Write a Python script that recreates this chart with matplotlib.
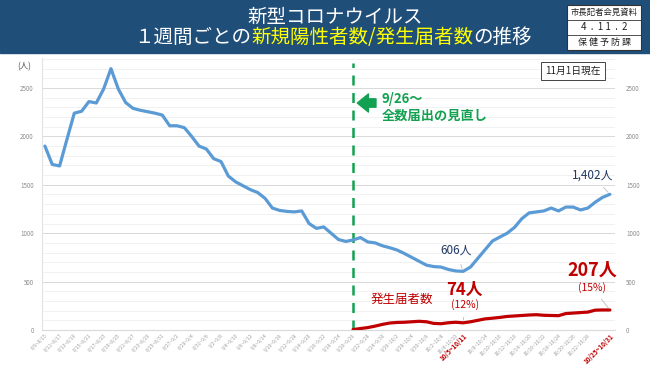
import matplotlib
matplotlib.use('agg')
import matplotlib.pyplot as plt
from matplotlib.patches import Rectangle
from matplotlib.lines import Line2D
import pandas as pd

plt.rcParams['font.family'] = ['Noto Sans CJK JP', 'DejaVu Sans']

# 7-day windows ending 8/15 ... 10/31
end_dates = pd.date_range('2022-08-15', '2022-10-31')
labels = [f"{(d - pd.Timedelta(days=6)).month}/{(d - pd.Timedelta(days=6)).day}~{d.month}/{d.day}"
          for d in end_dates]

# new positive cases (7-day sums)
positives = [1900, 1710, 1695, 1970, 2240, 2260, 2360, 2345, 2490, 2700,
             2490, 2350, 2290, 2270, 2255, 2240, 2220, 2110, 2110, 2090,
             2000, 1900, 1870, 1770, 1740, 1590, 1530, 1490, 1450, 1420,
             1360, 1260, 1235, 1225, 1220, 1230, 1100, 1050, 1065, 1000,
             935, 915, 930, 955, 910, 900, 870, 850, 826, 790,
             750, 710, 670, 655, 650, 625, 610, 606, 650, 740,
             830, 920, 960, 1000, 1060, 1150, 1210, 1220, 1230, 1260,
             1230, 1270, 1270, 1240, 1260, 1320, 1370, 1402]

# notified cases (from 9/26 on)
notified_start = 42
notified = [5, 15, 25, 40, 58, 72, 78, 80, 85, 90,
            85, 68, 65, 75, 80, 74, 85, 100, 115, 122,
            130, 140, 145, 150, 155, 158, 152, 150, 148, 170,
            175, 180, 185, 205, 207, 207]

tick_idx = list(range(0, 57, 2)) + [57] + list(range(60, 75, 2)) + [77]
red_ticks = [57, 77]

blue = '#5B9BD5'
red = '#C00000'
green = '#12A150'
navy = '#1F3864'
gray = '#8C8C8C'

fig = plt.figure(figsize=(6.5, 3.65), dpi=100)

# title bar
fig.patches.append(Rectangle((0, 1 - 53 / 365), 1, 53 / 365, transform=fig.transFigure,
                             color='#1F4E79', zorder=0))
fig.text(0.515, 1 - 17 / 365, '新型コロナウイルス', color='white', fontsize=14,
         ha='center', va='center')

pieces = [('１週間ごとの', 'white'), ('新規陽性者数/発生届者数', '#FFFF00'), ('の推移', 'white')]
renderer = fig.canvas.get_renderer()
texts = [fig.text(0, 1 - 37 / 365, s, color=c, fontsize=14, va='center') for s, c in pieces]
widths = [t.get_window_extent(renderer).width for t in texts]
x = 333 - sum(widths) / 2
for t, w in zip(texts, widths):
    t.set_x(x / 650)
    x += w

# stamp box
sx0, sx1, sy0, sy1 = 567, 641, 5, 50
fig.patches.append(Rectangle((sx0 / 650, 1 - sy1 / 365), (sx1 - sx0) / 650, (sy1 - sy0) / 365,
                             transform=fig.transFigure, fc='white', ec='#333333', lw=0.8, zorder=1))
for yy in [20, 35]:
    fig.lines.append(Line2D([sx0 / 650, sx1 / 650], [1 - yy / 365] * 2, transform=fig.transFigure,
                            color='#333333', lw=0.6, zorder=2))
fig.text((sx0 + sx1) / 2 / 650, 1 - 12.5 / 365, '市長記者会見資料', fontsize=6, ha='center', va='center',
         color='#222222', zorder=3)
fig.text((sx0 + sx1) / 2 / 650, 1 - 27.5 / 365, '4  .  1 1  .  2', fontsize=7, ha='center', va='center',
         color='#222222', zorder=3)
fig.text((sx0 + sx1) / 2 / 650, 1 - 42.5 / 365, '保 健 予 防 課', fontsize=6.5, ha='center', va='center',
         color='#222222', zorder=3)

# chart
ax = fig.add_axes([42 / 650, 1 - 330 / 365, 573 / 650, 272 / 365])
ax.set_xlim(-0.4, 77.7)
ax.set_ylim(0, 2810)
ax.set_yticks(range(0, 2501, 500))
ax.set_yticks(range(0, 2801, 100), minor=True)
ax.grid(axis='y', which='major', color='#D9D9D9', lw=0.7)
ax.grid(axis='y', which='minor', color='#EFEFEF', lw=0.6)
ax.set_axisbelow(True)
for s in ['top', 'right']:
    ax.spines[s].set_visible(False)
ax.spines['left'].set_color('#E3E3E3')
ax.spines['bottom'].set_color('#D9D9D9')
ax.tick_params(axis='y', which='both', length=0, labelsize=4.5, labelcolor=gray, pad=6)
ax.tick_params(axis='x', length=0, pad=2)

ax.plot(range(len(positives)), positives, color=blue, lw=2.3, solid_capstyle='round', zorder=3)
ax.plot(range(notified_start, notified_start + len(notified)), notified, color=red, lw=2.3,
        solid_capstyle='round', zorder=3)

ax.set_xticks(tick_idx)
ax.set_xticklabels([labels[i] for i in tick_idx], rotation=45, ha='right', rotation_mode='anchor')
for i, lab in zip(tick_idx, ax.get_xticklabels()):
    if i in red_ticks:
        lab.set_color(red)
        lab.set_fontsize(4.6)
        lab.set_fontweight('bold')
    else:
        lab.set_color('#A0A0A0')
        lab.set_fontsize(3.6)

ax2 = ax.twinx()
ax2.set_ylim(ax.get_ylim())
ax2.set_yticks(range(0, 2501, 500))
for s in ['top', 'right', 'left', 'bottom']:
    ax2.spines[s].set_visible(False)
ax2.tick_params(axis='y', length=0, labelsize=4.5, labelcolor=gray, pad=8)

fig.text(24 / 650, 1 - 67 / 365, '(人)', fontsize=6, color='#555555', ha='center', va='center')

# 9/26 change marker
ax.axvline(notified_start, ymin=0, ymax=0.98, color=green, lw=1.8, ls=(0, (4, 3)), zorder=2)
ax.annotate('', xy=(42.2, 2345), xytext=(45.5, 2345),
            arrowprops=dict(arrowstyle='simple,head_length=0.8,head_width=1.3,tail_width=0.6',
                            fc=green, ec=green, mutation_scale=10))
ax.text(45.9, 2390, '9/26～', color=green, fontsize=9.5, fontweight='bold', va='center')
ax.text(45.9, 2215, '全数届出の見直し', color=green, fontsize=9.5, fontweight='bold', va='center')

# callouts
last = len(positives) - 1
ax.annotate('1,402人', xy=(last, positives[last]), xytext=(74.6, 1600), color=navy, fontsize=8.5,
            ha='center', va='center',
            arrowprops=dict(arrowstyle='-', color='#BBBBBB', lw=0.6, shrinkA=3, shrinkB=2))
ax.annotate('606人', xy=(57, positives[57]), xytext=(56.0, 825), color=navy, fontsize=8.5,
            ha='center', va='center',
            arrowprops=dict(arrowstyle='-', color='#BBBBBB', lw=0.6, shrinkA=4, shrinkB=2))

ax.text(74.6, 615, '207人', color=red, fontsize=13, fontweight='bold', ha='center', va='center')
ax.annotate('(15%)', xy=(last, notified[-1]), xytext=(74.6, 440), color=red, fontsize=7.5,
            ha='center', va='center',
            arrowprops=dict(arrowstyle='-', color='#BBBBBB', lw=0.6, shrinkA=3, shrinkB=2))
ax.text(57.2, 415, '74人', color=red, fontsize=12, fontweight='bold', ha='center', va='center')
ax.annotate('(12%)', xy=(57, notified[57 - notified_start]), xytext=(57.2, 258), color=red,
            fontsize=7.5, ha='center', va='center',
            arrowprops=dict(arrowstyle='-', color='#BBBBBB', lw=0.6, shrinkA=3, shrinkB=2))
ax.text(48.6, 320, '発生届者数', color=red, fontsize=9, ha='center', va='center')

fig.text(573 / 650, 1 - 71 / 365, '11月1日現在', fontsize=7, ha='center', va='center', color='#222222',
         bbox=dict(boxstyle='square,pad=0.45', fc='white', ec='#444444', lw=0.7))

fig.savefig('out.png', dpi=100)
